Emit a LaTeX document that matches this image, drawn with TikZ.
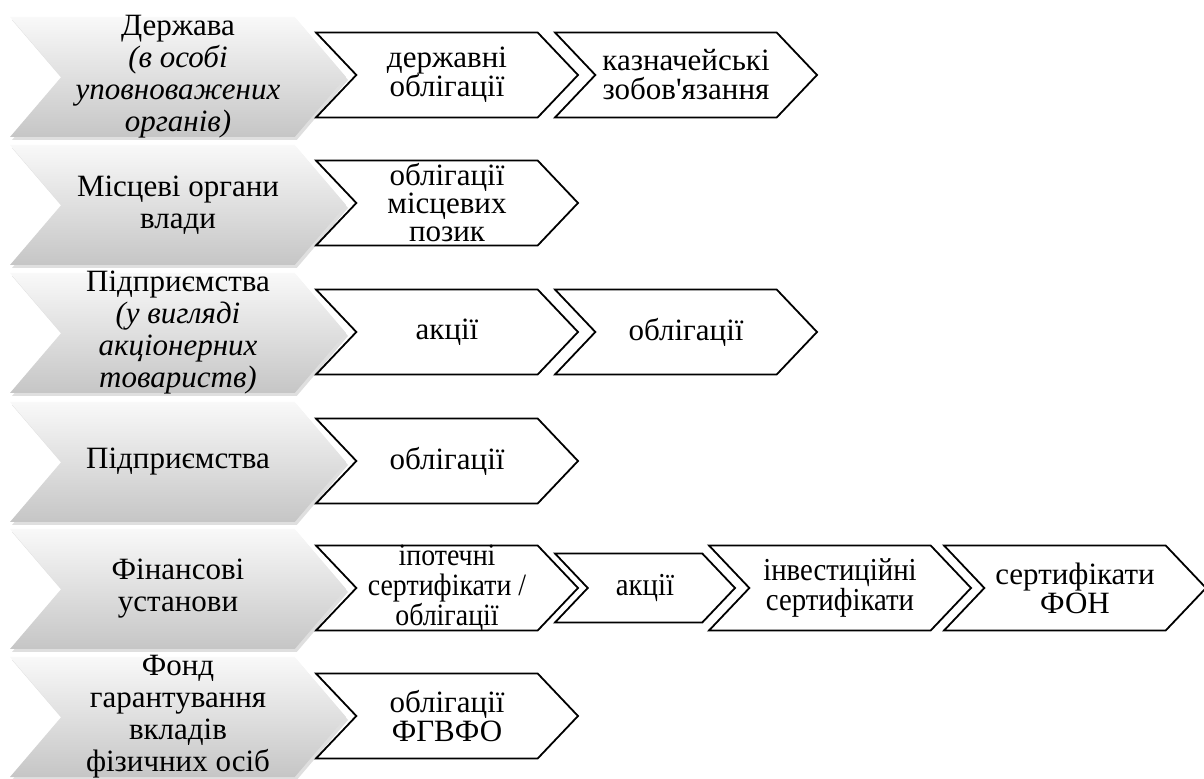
\documentclass[tikz,border=0pt]{standalone}
\usepackage{fontspec}
\setmainfont{Liberation Serif}
\newfontfamily\narrowfont[FakeStretch=0.9]{Liberation Serif}
\usetikzlibrary{shapes.symbols,shadows}

\tikzset{
  lbl/.style={align=center,inner sep=0pt,fill=none,draw=none},
  issuer/.style={signal,signal to=east,signal from=west,signal pointer angle=99,
    minimum width=168pt,minimum height=60pt,inner sep=0pt,
    top color=gray!5,bottom color=gray!45,draw=none,
    drop shadow={opacity=0.25,shadow xshift=1pt,shadow yshift=-1.5pt},
    label={[lbl,font=\fontsize{15.5}{16}\selectfont]center:#1}},
  paper/.style={signal,signal to=east,signal from=west,signal pointer angle=93,
    minimum width=131pt,minimum height=42.5pt,inner sep=0pt,
    draw,line width=0.9pt,fill=white,
    label={[lbl,font=\fontsize{15.5}{14.5}\selectfont]center:#1}}
}

\begin{document}
\begin{tikzpicture}[x=0.5pt,y=-0.5pt]
\useasboundingbox (0,0) rectangle (1204,779);
% emitents
\node[issuer={Держава\\\textit{(в особі}\\\textit{уповноважених}\\\textit{органів)}}] (state) at (178,77) {};
\node[issuer={Місцеві органи\\влади}] (local) at (178,205) {};
\node[issuer={Підприємства\\\textit{(у вигляді}\\\textit{акціонерних}\\\textit{товариств)}}] (jsc) at (178,333) {};
\node[issuer={Підприємства}] (firm) at (178,462) {};
\node[issuer={Фінансові\\установи}] (fin) at (178,589) {};
\node[issuer={Фонд\\гарантування\\вкладів\\фізичних осіб}] (fund) at (178,717) {};
% securities
\node[paper={державні\\облігації}] (state1) at (447,75) {};
\node[paper={казначейські\\зобов\textquotesingle язання}] (state2) at (686,75) {};
\node[paper={}] (local1) at (447,203) {};
\node[lbl,font=\fontsize{15.5}{14}\selectfont] (local1txt) at (local1.center) {облігації\\місцевих\\позик};
\node[paper={акції}] (jsc1) at (447,332) {};
\node[paper={облігації}] (jsc2) at (686,332) {};
\node[paper={облігації}] (firm1) at (447,461) {};
\node[paper={}] (fin1) at (447,588) {};
\node[lbl,font=\narrowfont\fontsize{15.5}{15}\selectfont] (fin1txt) at (fin1.center) {іпотечні\\сертифікати /\\облігації};
\node[paper={},minimum width=90pt,minimum height=34.5pt] (fin2) at (645,588) {};
\node[lbl,font=\narrowfont\fontsize{16}{15}\selectfont] (fin2txt) at (fin2.center) {акції};
\node[paper={}] (fin3) at (840,588) {};
\node[lbl,font=\narrowfont\fontsize{16}{15}\selectfont] (fin3txt) at (fin3.center) {інвестиційні\\сертифікати};
\node[paper={сертифікати\\ФОН}] (fin4) at (1075,588) {};
\node[paper={облігації\\ФГВФО}] (fund1) at (447,716) {};
\end{tikzpicture}
\end{document}
